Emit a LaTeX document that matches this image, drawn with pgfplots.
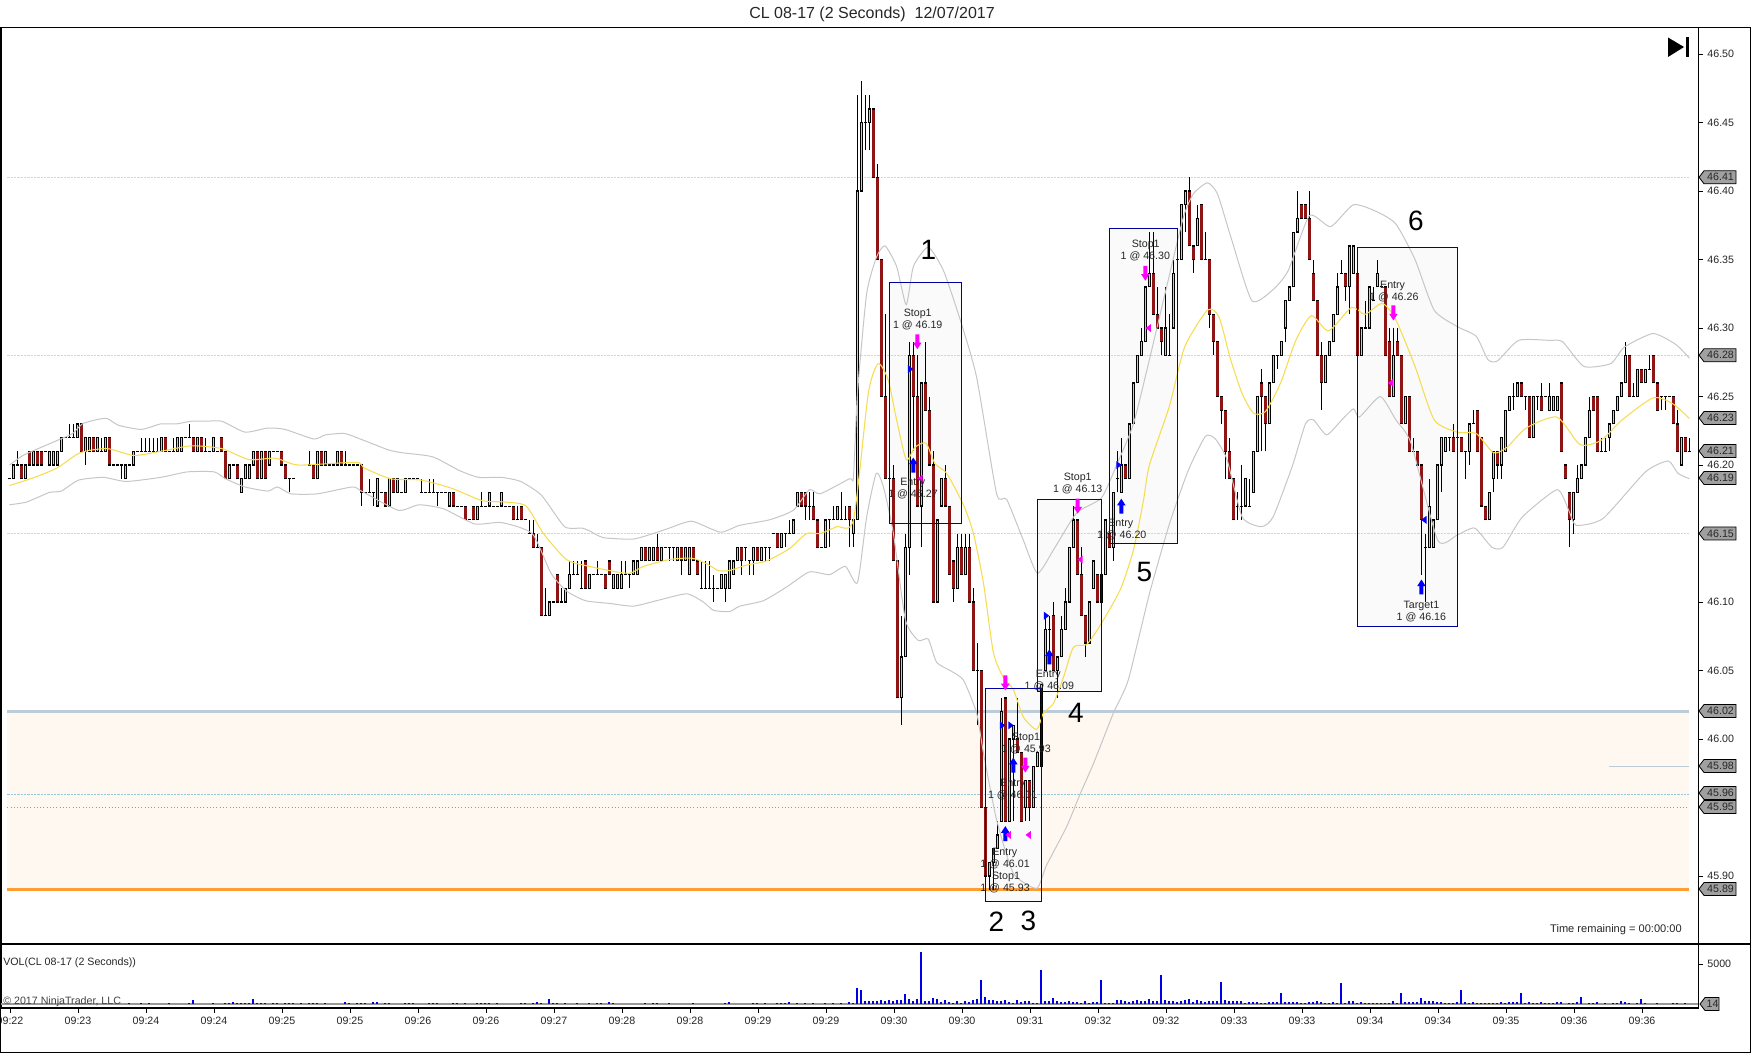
\documentclass[border=0pt]{standalone}
\usepackage{fontspec}
\setmainfont{Liberation Sans}
\usepackage{pgfplots}
\usepackage{pgfplotstable}
\pgfplotsset{compat=1.18}

\definecolor{upbody}{HTML}{B4DAB4}
\definecolor{downbody}{HTML}{8F1414}
\definecolor{bandgrey}{HTML}{C6C6C6}
\definecolor{smayellow}{HTML}{F6DC50}
\definecolor{levelyellow}{HTML}{FADF40}
\definecolor{zonefill}{HTML}{FEF8F0}
\definecolor{boxfill}{HTML}{FAFAFA}
\definecolor{boxblue}{HTML}{0000A0}
\definecolor{tagfill}{HTML}{A0A0A0}
\definecolor{levelblue}{HTML}{BCCBD8}
\definecolor{levelorange}{HTML}{FF9C34}
\definecolor{execmag}{HTML}{FF00FF}
\definecolor{execblue}{HTML}{0000FF}

% arrows and small triangles on the fills
\pgfdeclareplotmark{arrdown}{\pgfpathmoveto{\pgfqpoint{-1.5pt}{5.6pt}}\pgfpathlineto{\pgfqpoint{1.5pt}{5.6pt}}\pgfpathlineto{\pgfqpoint{1.5pt}{-0.6pt}}\pgfpathlineto{\pgfqpoint{3.2pt}{-0.6pt}}\pgfpathlineto{\pgfqpoint{0pt}{-5.6pt}}\pgfpathlineto{\pgfqpoint{-3.2pt}{-0.6pt}}\pgfpathlineto{\pgfqpoint{-1.5pt}{-0.6pt}}\pgfpathclose\pgfusepathqfill}
\pgfdeclareplotmark{arrup}{\pgfpathmoveto{\pgfqpoint{-1.5pt}{-5.6pt}}\pgfpathlineto{\pgfqpoint{1.5pt}{-5.6pt}}\pgfpathlineto{\pgfqpoint{1.5pt}{0.6pt}}\pgfpathlineto{\pgfqpoint{3.2pt}{0.6pt}}\pgfpathlineto{\pgfqpoint{0pt}{5.6pt}}\pgfpathlineto{\pgfqpoint{-3.2pt}{0.6pt}}\pgfpathlineto{\pgfqpoint{-1.5pt}{0.6pt}}\pgfpathclose\pgfusepathqfill}
\pgfdeclareplotmark{triright}{\pgfpathmoveto{\pgfqpoint{-2pt}{3pt}}\pgfpathlineto{\pgfqpoint{2pt}{0pt}}\pgfpathlineto{\pgfqpoint{-2pt}{-3pt}}\pgfpathclose\pgfusepathqfill}
\pgfdeclareplotmark{trileft}{\pgfpathmoveto{\pgfqpoint{2pt}{3pt}}\pgfpathlineto{\pgfqpoint{-2pt}{0pt}}\pgfpathlineto{\pgfqpoint{2pt}{-3pt}}\pgfpathclose\pgfusepathqfill}

\pgfplotstableread{
i o h l c
0 46.19 46.19 46.19 46.19
1 46.19 46.20 46.19 46.20
2 46.20 46.21 46.20 46.20
3 46.20 46.20 46.19 46.19
4 46.19 46.20 46.19 46.20
5 46.21 46.21 46.20 46.20
6 46.20 46.21 46.20 46.21
7 46.21 46.21 46.20 46.20
8 46.21 46.21 46.20 46.20
9 46.21 46.21 46.21 46.21
10 46.20 46.21 46.20 46.21
11 46.20 46.21 46.20 46.21
12 46.20 46.21 46.20 46.21
13 46.21 46.22 46.21 46.22
14 46.22 46.22 46.22 46.22
15 46.22 46.23 46.22 46.22
16 46.22 46.23 46.22 46.22
17 46.22 46.23 46.22 46.23
18 46.23 46.23 46.21 46.21
19 46.21 46.22 46.20 46.22
20 46.21 46.22 46.21 46.22
21 46.22 46.22 46.21 46.21
22 46.21 46.22 46.21 46.22
23 46.21 46.22 46.21 46.21
24 46.21 46.22 46.21 46.22
25 46.22 46.22 46.20 46.20
26 46.20 46.20 46.20 46.20
27 46.20 46.20 46.20 46.20
28 46.20 46.20 46.19 46.20
29 46.19 46.20 46.19 46.20
30 46.20 46.20 46.20 46.20
31 46.20 46.21 46.20 46.21
32 46.21 46.21 46.21 46.21
33 46.21 46.22 46.21 46.21
34 46.21 46.22 46.21 46.21
35 46.21 46.22 46.21 46.21
36 46.21 46.22 46.21 46.21
37 46.21 46.22 46.21 46.21
38 46.21 46.22 46.21 46.22
39 46.22 46.22 46.21 46.21
40 46.21 46.21 46.21 46.21
41 46.21 46.22 46.21 46.21
42 46.21 46.22 46.21 46.22
43 46.21 46.22 46.21 46.22
44 46.22 46.22 46.22 46.22
45 46.22 46.23 46.22 46.22
46 46.22 46.22 46.21 46.21
47 46.21 46.22 46.21 46.22
48 46.22 46.22 46.21 46.21
49 46.21 46.22 46.21 46.21
50 46.21 46.21 46.21 46.21
51 46.21 46.22 46.21 46.22
52 46.21 46.21 46.21 46.21
53 46.22 46.22 46.21 46.21
54 46.21 46.21 46.19 46.19
55 46.19 46.20 46.19 46.20
56 46.20 46.20 46.20 46.20
57 46.20 46.20 46.19 46.19
58 46.18 46.19 46.18 46.19
59 46.19 46.20 46.19 46.20
60 46.19 46.20 46.19 46.20
61 46.20 46.21 46.20 46.21
62 46.21 46.21 46.19 46.19
63 46.19 46.21 46.19 46.21
64 46.21 46.21 46.19 46.19
65 46.20 46.21 46.20 46.21
66 46.21 46.21 46.21 46.21
67 46.21 46.21 46.21 46.21
68 46.21 46.21 46.20 46.20
69 46.20 46.20 46.19 46.19
70 46.19 46.19 46.18 46.19
71 46.19 46.19 46.19 46.19
75 46.20 46.21 46.20 46.20
76 46.20 46.20 46.19 46.19
77 46.19 46.21 46.19 46.21
78 46.21 46.21 46.20 46.20
79 46.20 46.21 46.20 46.21
80 46.20 46.20 46.20 46.20
81 46.20 46.20 46.20 46.20
82 46.20 46.21 46.20 46.21
83 46.21 46.21 46.20 46.20
84 46.20 46.21 46.20 46.20
85 46.20 46.20 46.20 46.20
86 46.20 46.20 46.20 46.20
87 46.20 46.20 46.20 46.20
88 46.20 46.20 46.17 46.18
89 46.18 46.18 46.18 46.18
90 46.18 46.19 46.18 46.18
91 46.18 46.18 46.17 46.18
92 46.17 46.19 46.17 46.19
93 46.18 46.18 46.18 46.18
94 46.18 46.18 46.17 46.17
95 46.17 46.19 46.17 46.19
96 46.19 46.19 46.18 46.18
97 46.18 46.19 46.18 46.19
98 46.18 46.18 46.18 46.18
99 46.18 46.19 46.18 46.19
100 46.19 46.19 46.19 46.19
101 46.19 46.19 46.19 46.19
102 46.19 46.19 46.19 46.19
103 46.18 46.19 46.18 46.18
104 46.18 46.18 46.18 46.18
105 46.18 46.19 46.18 46.18
106 46.18 46.19 46.18 46.18
107 46.18 46.18 46.17 46.18
108 46.18 46.18 46.18 46.18
109 46.18 46.18 46.18 46.18
110 46.17 46.18 46.17 46.18
111 46.18 46.18 46.17 46.17
112 46.17 46.17 46.17 46.17
113 46.17 46.17 46.17 46.17
114 46.17 46.17 46.16 46.16
115 46.16 46.16 46.16 46.16
116 46.17 46.17 46.16 46.16
117 46.16 46.17 46.16 46.17
118 46.17 46.18 46.17 46.17
119 46.17 46.17 46.17 46.17
120 46.17 46.18 46.17 46.18
121 46.17 46.17 46.17 46.17
122 46.17 46.17 46.17 46.17
123 46.17 46.18 46.17 46.18
124 46.17 46.17 46.17 46.17
125 46.17 46.17 46.17 46.17
126 46.17 46.17 46.16 46.16
127 46.16 46.17 46.16 46.16
128 46.17 46.17 46.16 46.16
129 46.16 46.16 46.16 46.16
130 46.15 46.16 46.15 46.15
131 46.15 46.16 46.14 46.14
132 46.14 46.15 46.14 46.14
133 46.14 46.14 46.09 46.09
134 46.09 46.11 46.09 46.09
135 46.09 46.10 46.09 46.10
136 46.10 46.10 46.10 46.10
137 46.12 46.12 46.10 46.10
138 46.10 46.11 46.10 46.10
139 46.10 46.11 46.10 46.11
140 46.11 46.13 46.11 46.12
141 46.12 46.13 46.12 46.12
142 46.12 46.13 46.12 46.12
143 46.11 46.13 46.11 46.11
144 46.13 46.13 46.11 46.11
145 46.11 46.12 46.11 46.12
146 46.12 46.12 46.12 46.12
147 46.12 46.13 46.12 46.12
148 46.12 46.12 46.12 46.12
149 46.12 46.12 46.11 46.11
150 46.13 46.13 46.12 46.12
151 46.11 46.12 46.11 46.12
152 46.11 46.12 46.11 46.12
153 46.11 46.13 46.11 46.12
154 46.12 46.13 46.12 46.12
155 46.12 46.12 46.11 46.12
156 46.12 46.13 46.12 46.13
157 46.12 46.13 46.12 46.13
158 46.13 46.14 46.13 46.14
159 46.14 46.14 46.13 46.13
160 46.13 46.14 46.13 46.14
161 46.13 46.14 46.13 46.14
162 46.14 46.15 46.13 46.13
163 46.13 46.14 46.13 46.14
164 46.14 46.14 46.14 46.14
165 46.14 46.14 46.13 46.14
166 46.14 46.14 46.13 46.14
167 46.13 46.14 46.13 46.14
168 46.14 46.14 46.12 46.13
169 46.13 46.14 46.13 46.14
170 46.12 46.14 46.12 46.14
171 46.14 46.14 46.13 46.13
172 46.13 46.13 46.12 46.12
173 46.11 46.13 46.11 46.11
174 46.11 46.13 46.11 46.11
175 46.11 46.13 46.11 46.11
176 46.11 46.12 46.10 46.11
177 46.11 46.11 46.11 46.11
178 46.11 46.12 46.11 46.12
179 46.11 46.12 46.10 46.12
180 46.11 46.13 46.11 46.13
181 46.12 46.13 46.12 46.13
182 46.13 46.14 46.13 46.14
183 46.14 46.14 46.12 46.13
184 46.14 46.14 46.13 46.14
185 46.13 46.13 46.12 46.13
186 46.13 46.14 46.12 46.14
187 46.14 46.14 46.13 46.13
188 46.13 46.14 46.13 46.14
189 46.14 46.14 46.13 46.14
190 46.14 46.14 46.13 46.14
191 46.15 46.15 46.15 46.15
192 46.15 46.15 46.14 46.14
193 46.14 46.15 46.14 46.15
194 46.15 46.15 46.14 46.15
195 46.15 46.16 46.15 46.15
196 46.15 46.16 46.15 46.16
197 46.17 46.18 46.17 46.18
198 46.18 46.18 46.17 46.17
199 46.18 46.18 46.16 46.17
200 46.17 46.18 46.16 46.17
201 46.17 46.18 46.16 46.16
202 46.16 46.16 46.14 46.14
203 46.14 46.14 46.14 46.14
204 46.14 46.16 46.14 46.16
205 46.16 46.16 46.14 46.16
206 46.16 46.17 46.16 46.16
207 46.16 46.17 46.16 46.17
208 46.16 46.18 46.16 46.16
209 46.16 46.17 46.16 46.16
210 46.17 46.17 46.14 46.16
211 46.15 46.16 46.14 46.16
212 46.16 46.47 46.16 46.40
213 46.40 46.48 46.40 46.45
214 46.45 46.47 46.43 46.45
215 46.45 46.47 46.43 46.46
216 46.46 46.46 46.41 46.41
217 46.41 46.42 46.35 46.35
218 46.35 46.35 46.25 46.25
219 46.25 46.31 46.19 46.19
220 46.19 46.19 46.19 46.19
221 46.19 46.20 46.13 46.13
222 46.13 46.13 46.03 46.03
223 46.03 46.09 46.01 46.06
224 46.06 46.15 46.06 46.14
225 46.14 46.29 46.12 46.28
226 46.28 46.29 46.21 46.25
227 46.25 46.28 46.17 46.17
228 46.17 46.26 46.14 46.26
229 46.26 46.29 46.24 46.24
230 46.24 46.25 46.20 46.20
231 46.20 46.21 46.10 46.10
232 46.10 46.16 46.10 46.16
233 46.17 46.19 46.17 46.19
234 46.19 46.20 46.17 46.17
235 46.17 46.17 46.12 46.12
236 46.13 46.13 46.10 46.11
237 46.11 46.15 46.11 46.14
238 46.14 46.15 46.12 46.12
239 46.12 46.15 46.12 46.14
240 46.14 46.15 46.10 46.10
241 46.10 46.11 46.05 46.05
242 46.05 46.07 46.01 46.05
243 46.05 46.05 45.95 45.95
244 45.95 45.95 45.90 45.90
245 45.90 45.91 45.89 45.91
246 45.91 45.92 45.89 45.92
247 45.92 45.94 45.92 45.93
248 45.94 46.03 45.94 46.02
249 46.03 46.03 45.94 45.94
250 45.94 46.00 45.94 46.00
251 46.00 46.01 45.94 46.01
252 46.00 46.03 45.99 45.99
253 45.99 45.99 45.94 45.94
254 45.95 45.97 45.94 45.97
255 45.97 45.97 45.94 45.95
256 45.95 45.98 45.95 45.98
257 45.98 45.99 45.98 45.99
258 45.98 46.04 45.98 46.04
259 46.05 46.09 46.05 46.08
260 46.08 46.09 46.06 46.08
261 46.09 46.10 46.05 46.05
262 46.05 46.06 46.03 46.06
263 46.06 46.09 46.06 46.08
264 46.08 46.11 46.08 46.10
265 46.10 46.14 46.10 46.14
266 46.14 46.17 46.14 46.16
267 46.16 46.16 46.12 46.12
268 46.12 46.14 46.09 46.09
269 46.09 46.09 46.06 46.07
270 46.07 46.10 46.07 46.10
271 46.11 46.13 46.11 46.13
272 46.12 46.12 46.10 46.10
273 46.10 46.12 46.10 46.12
274 46.12 46.16 46.12 46.16
275 46.15 46.15 46.14 46.14
276 46.14 46.18 46.13 46.18
277 46.19 46.21 46.18 46.19
278 46.18 46.22 46.18 46.20
279 46.20 46.20 46.19 46.19
280 46.19 46.23 46.19 46.23
281 46.23 46.26 46.23 46.26
282 46.26 46.28 46.26 46.28
283 46.28 46.30 46.28 46.29
284 46.29 46.33 46.29 46.33
285 46.33 46.37 46.33 46.34
286 46.34 46.37 46.31 46.31
287 46.31 46.33 46.30 46.30
288 46.30 46.30 46.28 46.29
289 46.28 46.33 46.28 46.30
290 46.28 46.31 46.28 46.28
291 46.30 46.35 46.30 46.34
292 46.35 46.35 46.35 46.35
293 46.35 46.39 46.35 46.39
294 46.39 46.40 46.37 46.40
295 46.40 46.41 46.36 46.36
296 46.36 46.36 46.34 46.35
297 46.36 46.39 46.36 46.38
298 46.39 46.39 46.35 46.35
299 46.35 46.37 46.35 46.35
300 46.35 46.35 46.30 46.31
301 46.31 46.31 46.28 46.29
302 46.29 46.29 46.25 46.25
303 46.25 46.25 46.23 46.24
304 46.24 46.24 46.19 46.21
305 46.21 46.22 46.19 46.19
306 46.19 46.19 46.16 46.16
307 46.17 46.18 46.16 46.17
308 46.17 46.20 46.16 46.17
309 46.17 46.19 46.17 46.19
310 46.17 46.19 46.17 46.17
311 46.18 46.21 46.18 46.21
312 46.21 46.25 46.21 46.25
313 46.26 46.27 46.21 46.25
314 46.25 46.25 46.21 46.23
315 46.23 46.26 46.23 46.26
316 46.26 46.28 46.26 46.28
317 46.28 46.28 46.27 46.28
318 46.28 46.29 46.28 46.29
319 46.30 46.32 46.29 46.32
320 46.32 46.33 46.32 46.33
321 46.33 46.37 46.33 46.37
322 46.37 46.40 46.37 46.38
323 46.39 46.39 46.38 46.38
324 46.39 46.39 46.38 46.38
325 46.38 46.40 46.35 46.35
326 46.34 46.35 46.32 46.32
327 46.32 46.32 46.28 46.28
328 46.28 46.29 46.24 46.26
329 46.26 46.28 46.26 46.28
330 46.28 46.29 46.28 46.29
331 46.29 46.31 46.29 46.31
332 46.31 46.34 46.31 46.33
333 46.34 46.35 46.34 46.34
334 46.34 46.34 46.32 46.33
335 46.33 46.36 46.31 46.36
336 46.34 46.36 46.34 46.36
337 46.34 46.34 46.28 46.28
338 46.28 46.30 46.28 46.30
339 46.30 46.32 46.30 46.30
340 46.30 46.33 46.30 46.33
341 46.32 46.33 46.32 46.32
342 46.33 46.35 46.33 46.34
343 46.33 46.33 46.33 46.33
344 46.33 46.33 46.28 46.28
345 46.29 46.30 46.25 46.25
346 46.25 46.30 46.25 46.28
347 46.29 46.30 46.28 46.28
348 46.28 46.28 46.23 46.23
349 46.23 46.25 46.23 46.25
350 46.25 46.25 46.21 46.21
351 46.21 46.22 46.21 46.21
352 46.21 46.21 46.20 46.20
353 46.20 46.20 46.12 46.16
354 46.14 46.15 46.10 46.14
355 46.14 46.19 46.14 46.17
356 46.14 46.16 46.14 46.16
357 46.16 46.20 46.16 46.20
358 46.20 46.22 46.18 46.22
359 46.21 46.22 46.21 46.22
360 46.22 46.22 46.21 46.22
361 46.22 46.23 46.21 46.21
362 46.22 46.22 46.22 46.22
363 46.22 46.22 46.21 46.21
364 46.21 46.21 46.19 46.21
365 46.21 46.23 46.20 46.23
366 46.23 46.24 46.23 46.23
367 46.24 46.24 46.21 46.21
368 46.22 46.22 46.17 46.17
369 46.17 46.17 46.16 46.16
370 46.16 46.18 46.16 46.18
371 46.19 46.21 46.18 46.21
372 46.21 46.21 46.19 46.20
373 46.20 46.22 46.19 46.22
374 46.21 46.24 46.21 46.24
375 46.24 46.25 46.24 46.25
376 46.25 46.26 46.24 46.25
377 46.25 46.26 46.25 46.26
378 46.26 46.26 46.25 46.25
379 46.25 46.25 46.24 46.25
380 46.25 46.25 46.22 46.22
381 46.22 46.25 46.22 46.25
382 46.25 46.25 46.24 46.25
383 46.25 46.26 46.24 46.24
384 46.25 46.25 46.25 46.25
385 46.24 46.26 46.24 46.25
386 46.24 46.25 46.24 46.25
387 46.24 46.25 46.24 46.25
388 46.26 46.26 46.21 46.21
389 46.20 46.20 46.19 46.19
390 46.18 46.18 46.14 46.16
391 46.16 46.18 46.15 46.18
392 46.18 46.20 46.18 46.19
393 46.19 46.20 46.19 46.20
394 46.20 46.22 46.20 46.22
395 46.22 46.25 46.22 46.24
396 46.25 46.25 46.24 46.24
397 46.25 46.25 46.21 46.21
398 46.21 46.22 46.21 46.21
399 46.21 46.22 46.21 46.21
400 46.22 46.23 46.21 46.23
401 46.23 46.24 46.23 46.24
402 46.24 46.25 46.24 46.25
403 46.25 46.26 46.25 46.26
404 46.26 46.29 46.26 46.28
405 46.28 46.28 46.25 46.25
406 46.25 46.26 46.25 46.25
407 46.25 46.27 46.25 46.27
408 46.27 46.27 46.26 46.26
409 46.26 46.27 46.26 46.27
410 46.27 46.28 46.27 46.27
411 46.28 46.28 46.26 46.26
412 46.26 46.26 46.24 46.24
413 46.25 46.25 46.24 46.25
414 46.25 46.25 46.24 46.25
415 46.25 46.25 46.25 46.25
416 46.25 46.25 46.23 46.23
417 46.23 46.24 46.21 46.21
418 46.20 46.22 46.20 46.22
419 46.22 46.22 46.21 46.21
420 46.21 46.22 46.21 46.21
}\candles

\pgfplotstableread{
i v
30 120
33 100
35 100
40 100
45 130
46 500
51 100
54 120
55 150
56 280
57 150
58 130
59 170
60 200
61 620
62 160
63 120
64 130
66 200
67 120
69 170
70 120
71 100
73 120
75 170
76 120
77 100
79 100
84 210
85 120
87 130
88 170
89 100
91 240
92 220
94 130
95 100
99 120
100 120
101 100
105 100
106 100
107 100
111 100
112 100
114 100
117 120
118 120
119 140
120 200
122 100
128 100
129 100
131 120
132 250
133 160
135 600
136 170
137 130
139 120
142 120
145 100
147 140
148 140
150 210
151 150
159 100
161 130
162 100
165 100
171 100
179 130
180 300
186 100
187 100
189 100
192 100
193 120
194 120
195 240
197 100
199 100
201 100
204 100
206 100
208 100
210 300
211 100
212 2000
213 1750
214 400
215 400
216 420
217 420
218 500
219 450
220 500
221 350
222 520
223 500
224 1200
225 625
226 420
227 580
228 6500
229 420
230 375
231 700
232 625
233 300
234 500
235 210
236 125
237 375
238 170
239 330
240 250
241 500
242 620
243 3000
244 850
245 500
246 500
247 380
248 420
249 500
250 250
251 170
252 500
253 250
254 330
255 330
256 170
257 170
258 4250
259 420
260 330
261 750
262 420
263 250
264 300
265 330
266 250
267 210
268 125
269 330
270 170
271 210
272 210
273 3000
274 125
275 125
276 125
277 500
278 500
279 420
280 250
281 420
282 500
283 330
284 420
285 620
286 330
287 420
288 3630
289 500
290 330
291 380
292 300
293 420
294 540
295 580
296 250
297 500
298 330
299 300
300 380
301 420
302 420
303 2750
304 500
305 330
306 330
307 380
308 380
309 170
310 250
311 250
312 210
313 170
314 125
315 250
316 210
317 250
318 1375
319 210
320 250
321 250
322 210
323 125
324 170
325 250
326 300
327 420
328 210
329 125
330 170
331 250
332 170
333 2630
334 130
335 420
336 330
337 170
338 250
339 170
340 125
341 170
342 125
343 125
344 170
345 125
346 420
347 170
348 1375
349 250
350 250
351 250
352 250
353 700
354 420
355 330
356 330
357 250
358 250
359 170
360 170
361 125
362 210
363 1750
364 250
365 125
366 210
367 170
368 170
369 125
370 170
371 170
372 125
373 210
374 125
375 210
376 250
377 250
378 1375
379 125
380 210
381 170
382 170
383 210
384 125
385 125
386 125
387 210
388 210
390 125
391 125
392 250
393 830
395 170
396 170
397 290
399 125
401 125
402 125
403 330
404 250
405 170
407 170
408 625
409 125
412 125
416 125
417 125
419 125
}\volumes

% turn the candle rows into jump-separated segment lists, one stroked path per layer
\def\wicklist{}\def\framelist{}\def\uplist{}\def\downlist{}
\pgfplotstablegetrowsof{\candles}
\pgfmathtruncatemacro\lastrow{\pgfplotsretval-1}
\pgfplotsforeachungrouped \rw in {0,...,\lastrow}{%
  \pgfplotstablegetelem{\rw}{i}\of\candles\let\ci\pgfplotsretval
  \pgfplotstablegetelem{\rw}{o}\of\candles\let\co\pgfplotsretval
  \pgfplotstablegetelem{\rw}{h}\of\candles\let\ch\pgfplotsretval
  \pgfplotstablegetelem{\rw}{l}\of\candles\let\cl\pgfplotsretval
  \pgfplotstablegetelem{\rw}{c}\of\candles\let\cc\pgfplotsretval
  \ifdim\co pt>\cc pt \let\bt\cc\let\tp\co\else\let\bt\co\let\tp\cc\fi
  \pgfmathsetmacro\fbt{\bt-0.0004}\pgfmathsetmacro\ftp{\tp+0.0004}%
  \pgfmathsetmacro\ibt{\bt+0.0005}\pgfmathsetmacro\itp{\tp-0.0005}%
  \xdef\wicklist{\wicklist(\ci,\cl)(\ci,\ch)(\ci,nan)}%
  \xdef\framelist{\framelist(\ci,\fbt)(\ci,\ftp)(\ci,nan)}%
  \ifdim\cc pt>\co pt \xdef\uplist{\uplist(\ci,\ibt)(\ci,\itp)(\ci,nan)}\fi
  \ifdim\cc pt<\co pt \xdef\downlist{\downlist(\ci,\ibt)(\ci,\itp)(\ci,nan)}\fi
}
\newcommand\segplot[2]{\edef\temp{\noexpand\addplot[#1,unbounded coords=jump,forget plot,line cap=butt] coordinates {#2};}\temp}

% one text line, centred, given in picture pixels from the top
\newcommand\T[3]{\node[font=\fontsize{8}{9.6}\selectfont,text=black!85,inner sep=0pt] at (#1,{1054-#2-1.5}) {#3};}
% big box number
\newcommand\N[3]{\node[font=\fontsize{21}{24}\selectfont,inner sep=0pt] at (#1,{1054-#2}) {#3};}
% grey price tag on the right axis
\newcommand\tagp[2]{\filldraw[fill=tagfill,draw=black,line width=0.6pt] (1699,{1054-#1}) -- (1704,{1054-#1+6.5}) -- (1736,{1054-#1+6.5}) -- (1736,{1054-#1-6.5}) -- (1704,{1054-#1-6.5}) -- cycle;
\node[font=\fontsize{8}{9.6}\selectfont,text=black!85,inner sep=0pt] at (1720.5,{1054-#1}) {#2};}

\begin{document}
\begin{tikzpicture}[x=0.75pt,y=0.75pt]
\useasboundingbox (0,0) rectangle (1752,1054);

\begin{axis}[
    name=price,
    at={(0.75pt,82.5pt)}, anchor=south west,
    scale only axis,
    width=1272.75pt, height=687.2pt,
    xmin=-2.1, xmax=422.15,
    ymin=45.8504, ymax=46.5192,
    xtick=\empty,
    ytick={45.90,45.95,46.00,46.05,46.10,46.15,46.20,46.25,46.30,46.35,46.40,46.45,46.50},
    yticklabels={45.90,,46.00,46.05,46.10,,46.20,46.25,46.30,46.35,46.40,46.45,46.50},
    ytick pos=right, yticklabel pos=right,
    tick align=outside, major tick length=3.5pt,
    tick style={black,line width=0.7pt},
    axis line style={line width=0.8pt},
    tick label style={font=\fontsize{8}{9.6}\selectfont,text=black!85},
]
% shaded level zone and trade boxes
\addplot[fill=zonefill,draw=none,forget plot] coordinates {(-0.5,46.02)(419.8,46.02)(419.8,45.89)(-0.5,45.89)} -- cycle;
\addplot[fill=boxfill,draw=none,forget plot] coordinates {(220,46.333)(238,46.333)(238,46.157)(220,46.157)} -- cycle;
\addplot[fill=boxfill,draw=none,forget plot] coordinates {(244,46.037)(258,46.037)(258,45.8815)(244,45.8815)} -- cycle;
\addplot[fill=boxfill,draw=none,forget plot] coordinates {(257,46.175)(273,46.175)(273,46.035)(257,46.035)} -- cycle;
\addplot[fill=boxfill,draw=none,forget plot] coordinates {(275,46.373)(292,46.373)(292,46.143)(275,46.143)} -- cycle;
\addplot[fill=boxfill,draw=none,forget plot] coordinates {(337,46.359)(361.9,46.359)(361.9,46.082)(337,46.082)} -- cycle;

% price levels
\addplot[levelyellow,dash pattern=on 1.6pt off 0.9pt,line width=0.55pt] coordinates {(-0.5,46.41)(419.8,46.41)};
\addplot[levelyellow,dash pattern=on 1.6pt off 0.9pt,line width=0.55pt] coordinates {(-0.5,46.28)(419.8,46.28)};
\addplot[levelyellow,dash pattern=on 1.6pt off 0.9pt,line width=0.55pt] coordinates {(-0.5,46.15)(419.8,46.15)};
\addplot[levelblue,line width=2pt] coordinates {(-0.5,46.02)(419.8,46.02)};
\addplot[levelblue,line width=0.7pt] coordinates {(400,45.98)(419.8,45.98)};
\addplot[gray!45!cyan!60!white,dash pattern=on 1.6pt off 0.9pt,line width=0.45pt] coordinates {(-0.5,45.96)(419.8,45.96)};
\addplot[black!40,dotted,line width=0.45pt] coordinates {(-0.5,45.95)(419.8,45.95)};
\addplot[levelorange,line width=1.9pt] coordinates {(-0.5,45.89)(419.8,45.89)};

% candles: wick, black outline, then the coloured inside
\segplot{black,line width=0.7pt}{\wicklist}
\segplot{black,line width=2.25pt}{\framelist}
\segplot{upbody,line width=1.3pt}{\uplist}
\segplot{downbody,line width=1.75pt}{\downlist}

% upper band
\addplot[bandgrey,line width=0.75pt,smooth,tension=0.35] coordinates {
(0,46.200)(3.4,46.207)(7.2,46.212)(12,46.218)(15.8,46.223)(18.2,46.230)(21.6,46.233)(24.4,46.234)(27.3,46.229)(33,46.226)(37.8,46.230)(41.7,46.230)(45.5,46.232)(49.3,46.232)(53.1,46.232)(58.9,46.224)(64.6,46.227)(68.9,46.226)(76.1,46.219)(79,46.222)(83.8,46.223)(88.6,46.218)(94.8,46.211)(98.1,46.209)(105.8,46.206)(112.5,46.196)(117.3,46.191)(123,46.191)(127.8,46.188)(133,46.178)(138.8,46.155)(143.1,46.154)(145,46.152)(148.5,46.147)(156,46.146)(162,46.151)(165,46.154)(170.6,46.159)(177.7,46.151)(182.6,46.156)(190,46.160)(196,46.167)(200,46.182)(202.7,46.179)(210,46.190)(211,46.191)(212,46.252)(214.3,46.325)(216.8,46.352)(218.9,46.360)(221.8,46.345)(224.2,46.317)(226,46.345)(229.7,46.359)(233.5,46.342)(237.7,46.306)(241.8,46.264)(246.8,46.179)(249.3,46.175)(253.5,46.145)(257,46.121)(261,46.138)(266.8,46.165)(273,46.176)(276.8,46.200)(281,46.230)(285,46.277)(289.3,46.330)(293.5,46.381)(296,46.398)(299.5,46.406)(302,46.398)(305.3,46.367)(310.6,46.320)(315.9,46.328)(319.7,46.342)(325,46.382)(330.3,46.374)(336,46.390)(341.8,46.385)(346.6,46.376)(351.4,46.350)(356.2,46.313)(362,46.301)(366.7,46.294)(369.6,46.277)(372,46.276)(377.3,46.291)(385,46.291)(388.3,46.290)(393.6,46.272)(400.3,46.274)(403.7,46.286)(410.9,46.296)(416.6,46.288)(420,46.278)};
% lower band
\addplot[bandgrey,line width=0.75pt,smooth,tension=0.35] coordinates {
(0,46.171)(4.3,46.173)(10,46.180)(13,46.181)(17.3,46.189)(23.5,46.191)(29.2,46.188)(37.8,46.191)(44.5,46.195)(51.2,46.195)(54,46.190)(58.9,46.184)(64.6,46.181)(67,46.184)(70.4,46.179)(77,46.179)(85.7,46.184)(88,46.181)(97.2,46.167)(102.4,46.171)(108.6,46.168)(116.3,46.157)(123,46.158)(130.7,46.150)(135.4,46.121)(139.3,46.108)(144,46.101)(150,46.099)(156,46.097)(161.8,46.101)(169.3,46.106)(173.5,46.100)(176,46.094)(180,46.093)(182.6,46.097)(188.5,46.101)(194.3,46.111)(200,46.122)(205,46.120)(209,46.126)(212,46.114)(214.3,46.162)(216.7,46.194)(218.5,46.184)(221,46.150)(224,46.087)(227.2,46.072)(229.7,46.073)(231.8,46.056)(235.2,46.050)(238.5,46.043)(241.8,46.019)(243.5,45.990)(246.8,45.941)(251,45.902)(256.8,45.891)(259.3,45.908)(264.3,45.936)(267.7,45.960)(271,45.982)(276,46.019)(279.7,46.043)(285,46.106)(290,46.157)(294.7,46.196)(299,46.221)(301.5,46.219)(304.4,46.204)(308.2,46.162)(313,46.155)(315.9,46.162)(320.7,46.199)(324,46.230)(326,46.233)(329.3,46.222)(333.1,46.233)(336,46.241)(337.5,46.235)(342.7,46.250)(346.6,46.233)(350.4,46.216)(357.1,46.145)(362,46.149)(366.3,46.154)(370.6,46.140)(373.4,46.140)(378.2,46.162)(386.9,46.182)(389.8,46.167)(391.7,46.156)(398.4,46.161)(409,46.195)(414.7,46.203)(417.1,46.194)(420,46.190)};
% moving average
\addplot[smayellow,line width=0.8pt,smooth,tension=0.4] coordinates {
(0,46.185)(6.3,46.191)(12,46.198)(17.7,46.209)(24.4,46.212)(31.1,46.207)(37.8,46.210)(45.5,46.214)(53.1,46.212)(59.9,46.204)(66.5,46.205)(72.3,46.200)(86.6,46.202)(88.6,46.198)(95.3,46.190)(102.9,46.189)(110.6,46.183)(118.2,46.174)(124,46.173)(129.2,46.170)(133.5,46.150)(139.3,46.131)(145,46.126)(150,46.123)(155,46.121)(158.5,46.126)(165,46.131)(170.6,46.132)(174.3,46.128)(177.2,46.123)(180,46.123)(184.3,46.127)(189.3,46.130)(195,46.139)(199.3,46.150)(202.7,46.150)(206.8,46.155)(211,46.160)(214.7,46.252)(217.2,46.274)(219.7,46.262)(221.8,46.233)(224.2,46.204)(226.4,46.213)(229.15,46.216)(231.4,46.201)(234.3,46.194)(238.5,46.171)(241,46.150)(243.5,46.114)(246,46.063)(248.5,46.045)(251,46.036)(253.5,46.016)(256.8,46.007)(258.5,46.019)(261,46.026)(263.5,46.045)(266,46.067)(269.3,46.069)(272.7,46.083)(277.7,46.109)(281,46.138)(283.5,46.174)(285,46.200)(290,46.243)(293.8,46.286)(299.5,46.313)(302.4,46.308)(305.3,46.277)(308.2,46.252)(311,46.238)(314,46.239)(317.8,46.260)(321.6,46.291)(325.5,46.309)(329.8,46.298)(335.5,46.315)(338.9,46.310)(343.2,46.318)(346.6,46.306)(351.4,46.272)(356.2,46.233)(362,46.224)(366.7,46.223)(371,46.209)(374.4,46.213)(379.2,46.227)(386.9,46.235)(392.6,46.215)(397.9,46.218)(403.2,46.233)(410.9,46.249)(415.7,46.245)(420,46.234)};

% trade boxes, outlines over the candles
\addplot[boxblue,line width=0.72pt] coordinates {(220,46.333)(238,46.333)(238,46.157)(220,46.157)(220,46.333)};
\addplot[boxblue,line width=0.72pt] coordinates {(244,46.037)(258,46.037)(258,45.8815)(244,45.8815)(244,46.037)};
\addplot[boxblue,line width=0.72pt] coordinates {(257,46.175)(273,46.175)(273,46.035)(257,46.035)(257,46.175)};
\addplot[boxblue,line width=0.72pt] coordinates {(275,46.373)(292,46.373)(292,46.143)(275,46.143)(275,46.373)};
\addplot[boxblue,line width=0.72pt] coordinates {(337,46.359)(361.9,46.359)(361.9,46.082)(337,46.082)(337,46.359)};

% executions
\addplot[only marks,mark=arrdown,execmag,mark options={fill=execmag,draw=none}] coordinates {(226.97,46.290)(267.07,46.170)(283.97,46.340)(248.97,46.041)(253.97,45.981)(346,46.311)};
\addplot[only marks,mark=arrup,execblue,mark options={fill=execblue,draw=none}] coordinates {(225.97,46.200)(277.97,46.170)(248.97,45.931)(250.97,45.981)(259.97,46.060)(353,46.111)};
\addplot[only marks,mark=triright,execblue,mark options={fill=execblue,draw=none}] coordinates {(225.3,46.270)(277.4,46.200)(248.3,46.010)(250.4,46.010)(259.3,46.090)};
\addplot[only marks,mark=trileft,execblue,mark options={fill=execblue,draw=none}] coordinates {(353.6,46.160)};
\addplot[only marks,mark=trileft,execmag,mark options={fill=execmag,draw=none}] coordinates {(227.65,46.190)(267.65,46.131)(284.7,46.300)(249.7,45.930)(254.7,45.930)(345.3,46.260)};
\end{axis}

\begin{axis}[
    at={(0.75pt,34.5pt)}, anchor=south west,
    scale only axis,
    width=1272.75pt, height=48pt,
    xmin=-2.1, xmax=422.15,
    ymin=-485, ymax=7493,
    axis line style={line width=0.8pt},
    xtick={0.15,17.15,...,408.15},
    xticklabels={09:22,09:23,09:24,09:24,09:25,09:25,09:26,09:26,09:27,09:28,09:28,09:29,09:29,09:30,09:30,09:31,09:32,09:32,09:33,09:33,09:34,09:34,09:35,09:36,09:36},
    ytick={5000},
    yticklabels={5000},
    xtick pos=bottom, ytick pos=right, yticklabel pos=right,
    tick align=outside, major tick length=3.5pt,
    tick style={black,line width=0.7pt},
    tick label style={font=\fontsize{8}{9.6}\selectfont,text=black!85},
]
\addplot[gray!80,line width=0.9pt] coordinates {(-2.1,14)(422.15,14)};
\addplot[ycomb,blue!90!black,line width=1.5pt] table[x=i,y=v] {\volumes};
\end{axis}

% outer frame
\draw[black,line width=0.9pt] (0.6,1.5) rectangle (1750.8,{1054-27.7});
\draw[black,line width=0.8pt] (0.6,110) -- (1750.8,110);

% title and corner text
\node[font=\fontsize{12}{14}\selectfont,text=black!85,inner sep=0pt] at (872,{1054-14.5}) {CL 08-17 (2 Seconds)\ \ 12/07/2017};
\node[font=\fontsize{8.3}{10}\selectfont,text=black!85,inner sep=0pt,anchor=east] at (1682,{1054-930}) {Time remaining = 00:00:00};
\node[font=\fontsize{8}{9.6}\selectfont,text=black!85,inner sep=0pt,anchor=west] at (3,{1054-962.7}) {VOL(CL 08-17 (2 Seconds))};
\node[font=\fontsize{8}{9.6}\selectfont,text=black!75,inner sep=0pt,anchor=west] at (3,{1054-1002}) {\textcopyright\ 2017 NinjaTrader, LLC};
\fill[black] (1668,{1054-37.5}) -- (1684,{1054-47}) -- (1668,{1054-57}) -- cycle;
\fill[black] (1685.5,{1054-37}) rectangle (1689,{1054-57});

% execution labels
\T{917.7}{312.3}{Stop1}\T{917.7}{324.3}{1 @ 46.19}
\T{912.7}{481}{Entry}\T{913}{493}{1 @ 46.27}
\T{1077.7}{476}{Stop1}\T{1077.7}{488}{1 @ 46.13}
\T{1145.7}{243.3}{Stop1}\T{1145.3}{255}{1 @ 46.30}
\T{1120.7}{522.3}{Entry}\T{1121.7}{534}{1 @ 46.20}
\T{1048.3}{673.3}{Entry}\T{1049.3}{685}{1 @ 46.09}
\T{1026}{736.7}{Stop1}\T{1026}{748.3}{1 @ 45.93}
\T{1012.7}{782.3}{Entry}\T{1012.7}{794.3}{1 @ 46.01}
\T{1004.7}{851.3}{Entry}\T{1005}{863.3}{1 @ 46.01}
\T{1006}{875.3}{Stop1}\T{1005}{887.3}{1 @ 45.93}
\T{1392.6}{284.3}{Entry}\T{1393.8}{296}{1 @ 46.26}
\T{1421.4}{604}{Target1}\T{1421.4}{616}{1 @ 46.16}

% box numbers
\N{928.3}{250}{1}\N{996.3}{921.3}{2}\N{1028.3}{921.3}{3}\N{1076}{713.3}{4}\N{1144.3}{571.7}{5}\N{1416}{221}{6}

% price tags
\tagp{177.3}{46.41}\tagp{355.3}{46.28}\tagp{418}{46.23}\tagp{451}{46.21}\tagp{478}{46.19}\tagp{533.5}{46.15}
\tagp{711}{46.02}\tagp{766}{45.98}\tagp{793}{45.96}\tagp{807}{45.95}\tagp{889}{45.89}
\filldraw[fill=tagfill,draw=black,line width=0.6pt] (1700,{1054-1004}) -- (1705,{1054-1004+6.5}) -- (1719,{1054-1004+6.5}) -- (1719,{1054-1004-6.5}) -- (1705,{1054-1004-6.5}) -- cycle;
\node[font=\fontsize{8}{9.6}\selectfont,text=black!85,inner sep=0pt] at (1712.5,{1054-1004}) {14};
\end{tikzpicture}
\end{document}
